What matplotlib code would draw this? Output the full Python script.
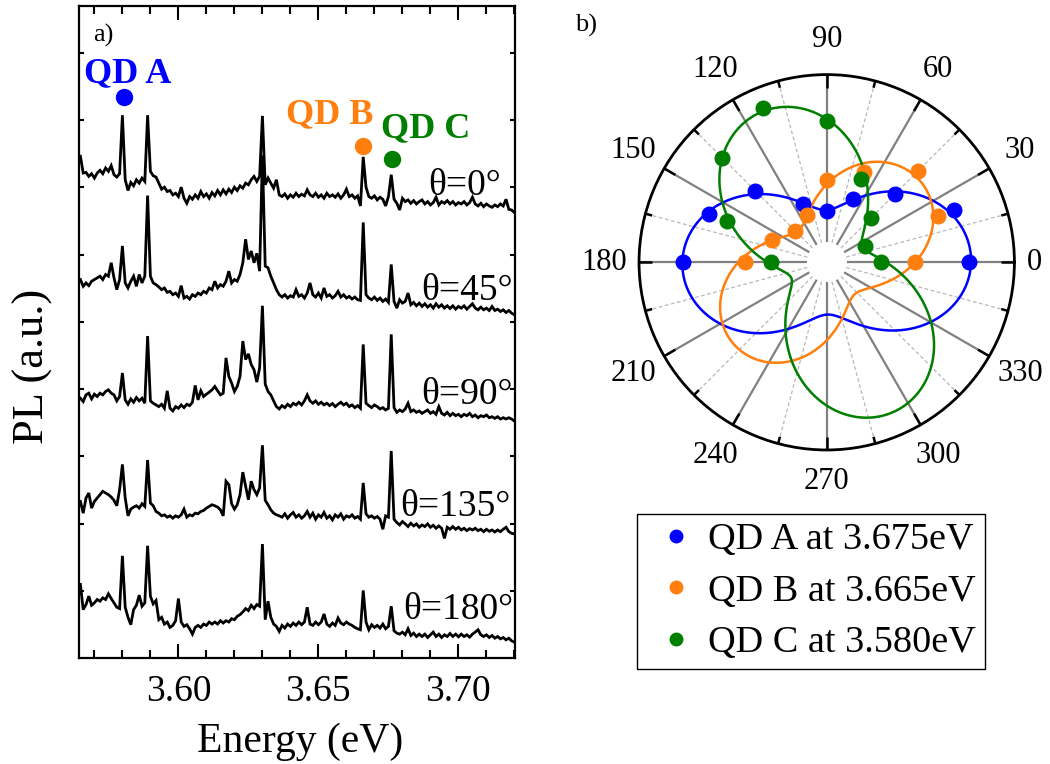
import numpy as np
import matplotlib
matplotlib.use('Agg')
import matplotlib.pyplot as plt
from matplotlib.lines import Line2D
from matplotlib.ticker import MultipleLocator

plt.rcParams['font.family'] = ['Liberation Serif', 'DejaVu Serif']

# ---------------- data: PL spectra (a.u.), 1 meV grid ----------------
E_START, E_STEP, N_PTS = 3.565, 0.001, 156
energy = np.round(E_START + E_STEP * np.arange(N_PTS), 4)

spec_0 = [170,120,122,110,118,105,120,128,118,135,
          125,142,115,108,118,292,100,68,92,82,
          100,90,105,95,292,125,112,108,90,72,
          78,65,68,55,60,50,78,45,30,50,
          42,55,45,65,50,58,45,62,52,68,
          55,70,58,72,62,78,68,82,75,90,
          85,100,110,95,110,290,85,105,90,75,
          100,55,50,58,45,55,48,60,50,57,
          52,70,55,50,60,48,55,45,60,50,
          55,48,58,45,55,72,50,55,45,52,
          22,168,78,50,45,52,40,48,42,22,
          50,115,42,30,10,45,35,40,30,38,
          28,35,40,28,35,25,32,48,25,35,
          30,38,28,35,25,32,28,35,25,32,
          48,28,22,30,20,28,22,18,25,20,
          28,22,42,12,10,2]
spec_45 = [100,80,90,82,95,100,105,110,100,115,
           110,150,105,70,100,200,90,75,95,110,
           80,115,90,110,350,110,90,85,78,70,
           75,62,65,55,60,50,82,45,50,42,
           55,50,60,55,65,60,75,70,95,75,
           85,80,95,125,90,100,95,115,150,220,
           160,185,150,178,125,470,140,135,110,90,
           70,55,48,55,45,52,48,70,50,55,
           45,60,90,55,48,60,45,75,50,55,
           45,52,65,48,55,45,50,42,48,40,
           38,270,55,45,40,48,38,45,35,42,
           32,145,35,15,40,30,35,60,25,32,
           22,30,20,28,18,25,15,28,18,25,
           15,22,14,22,12,20,15,22,12,20,
           28,15,10,18,10,15,8,20,8,12,
           5,10,2,8,0,-5]
spec_90 = [80,70,90,95,78,92,85,95,90,100,
           105,95,90,72,85,155,75,62,78,68,
           82,72,80,65,265,72,65,60,55,62,
           50,102,50,42,55,50,60,52,62,58,
           68,118,75,102,85,92,98,105,115,102,
           90,95,200,145,125,100,115,145,250,195,
           212,180,165,128,170,355,122,100,90,72,
           55,48,58,52,62,55,65,60,68,60,
           72,90,72,65,72,62,68,60,65,58,
           64,55,62,68,60,65,55,60,52,58,
           50,240,65,58,52,60,55,48,52,45,
           50,270,52,38,45,40,48,65,40,45,
           38,42,35,40,45,35,40,32,55,35,
           30,38,28,35,28,32,25,32,28,35,
           25,30,22,28,25,30,22,25,20,25,
           18,22,18,22,18,12]
spec_135 = [115,80,125,140,95,115,125,135,145,140,
            135,128,118,102,150,225,125,72,92,98,
            102,95,108,100,238,110,102,85,80,72,
            75,68,72,65,72,68,75,92,68,75,
            72,80,78,85,88,95,100,105,102,98,
            90,72,175,165,108,92,105,135,202,160,
            120,175,150,135,155,282,118,105,90,80,
            75,72,68,78,65,75,82,68,75,65,
            72,85,68,80,62,75,68,82,65,72,
            60,75,68,78,62,72,68,75,65,70,
            62,170,78,68,72,65,70,62,32,72,
            68,265,62,52,45,55,48,40,50,42,
            48,38,45,40,48,38,44,35,42,35,
            5,38,32,40,32,38,30,35,28,34,
            30,35,28,32,25,32,26,30,24,30,
            25,32,38,25,20,18]
spec_180 = [190,115,130,155,128,135,145,140,150,145,
            162,148,135,122,118,275,122,92,70,115,
            128,158,125,135,305,155,132,142,85,92,
            72,78,62,68,82,148,78,65,70,58,
            42,62,68,62,72,68,78,72,78,72,
            82,75,82,78,88,85,95,100,108,118,
            112,128,118,130,125,310,85,140,92,72,
            65,50,68,60,72,65,75,68,78,70,
            78,122,72,68,78,70,78,102,72,65,
            75,68,90,75,70,78,72,68,62,58,
            55,172,78,55,70,62,68,60,72,58,
            65,125,52,45,42,48,40,58,38,45,
            35,42,35,42,32,40,48,35,42,32,
            40,35,44,35,42,34,42,35,40,33,
            42,48,55,40,35,40,32,38,30,35,
            28,32,25,30,22,18]

spectra = [spec_0, spec_45, spec_90, spec_135, spec_180]
spec_offsets = [1323, 1026, 693, 351, 29]
spec_labels = ['θ=0°', 'θ=45°', 'θ=90°', 'θ=135°', 'θ=180°']
label_E = [3.7152, 3.7195, 3.7195, 3.7188, 3.7195]
label_base = [1378, 1065, 756, 423, 116]

qd_names = ['QD A', 'QD B', 'QD C']
qd_dot_E = [3.5807, 3.6658, 3.6762]
qd_dot_I = [1669, 1524, 1484]
qd_text_E = [3.5820, 3.6541, 3.6884]
qd_text_I = [1714, 1592, 1550]
colors = ['#0000ff', '#ff7f0e', '#007f00']

# ---------------- data: polarisation (normalised PL) ----------------
pol_angles = [0, 22.5, 45, 67.5, 90, 112.5, 135, 157.5, 180]
pol_a = [0.758, 0.734, 0.515, 0.366, 0.275, 0.334, 0.538, 0.677, 0.764]
pol_b = [0.471, 0.639, 0.691, 0.520, 0.439, 0.272, 0.236, 0.314, 0.435]
pol_c = [0.288, 0.222, 0.336, 0.483, 0.755, 0.892, 0.787, 0.574, 0.298]
legend_labels = ['QD A at 3.675eV', 'QD B at 3.665eV', 'QD C at 3.580eV']
theta_tick_angles = list(range(0, 360, 30))

# ---------------- figure ----------------
fig = plt.figure(figsize=(10.5, 7.64), dpi=100)

ax = fig.add_axes([79/1050, 106/764, 436/1050, 652/764])
for s, off in zip(spectra, spec_offsets):
    ax.plot(energy, np.array(s) + off, color='k', lw=2.0, solid_joinstyle='miter')
ax.set_xlim(3.5645, 3.7202)
ax.set_ylim(0, 1940)
ax.set_xticks([3.60, 3.65, 3.70])
ax.set_xticklabels(['3.60', '3.65', '3.70'])
ax.xaxis.set_minor_locator(MultipleLocator(0.01))
ax.set_yticks(np.arange(200, 1801, 200))
ax.set_yticklabels([])
ax.tick_params(axis='both', which='both', direction='in', top=True, right=True,
               width=1.5, color='k')
ax.tick_params(axis='x', which='major', length=10, labelsize=27, pad=12)
ax.tick_params(axis='x', which='minor', length=5.5)
ax.tick_params(axis='y', which='major', length=3.5)
for sp in ax.spines.values():
    sp.set_linewidth(1.6)

xl = ax.set_xlabel('Energy (eV)', fontsize=30)
ax.xaxis.set_label_coords((300-79)/436, (658-752)/652)
xl.set_va('baseline')
yl = ax.set_ylabel('PL (a.u.)', fontsize=32)
ax.yaxis.set_label_coords((33-79)/436, (658-366)/652)
yl.set_va('center')

for lab, xe, yb in zip(spec_labels, label_E, label_base):
    ax.text(xe, yb, lab, fontsize=27, ha='right', va='baseline')

for name, de, di, te, ti, c in zip(qd_names, qd_dot_E, qd_dot_I, qd_text_E, qd_text_I, colors):
    ax.plot([de], [di], 'o', color=c, ms=11.5, mec=c)
    ax.text(te, ti, name, color=c, fontsize=26, fontweight='bold', ha='center', va='baseline')

ax.text(0.032, 0.945, 'a)', transform=ax.transAxes, fontsize=19, va='baseline')

# ---------------- polar panel ----------------
pax = fig.add_axes([0.6086, 0.411, 0.3575, 0.4914], projection='polar')
pax.set_ylim(0, 1)
pax.set_xticks([])
pax.set_yticks([])
pax.grid(False)
pax.spines['polar'].set_linewidth(2.0)
pax.spines['polar'].set_color('k')

r_in = 0.107
for a in range(0, 360, 30):
    t = np.deg2rad(a)
    pax.plot([t, t], [r_in, 1], color='#808080', lw=1.6, solid_capstyle='butt', zorder=1)
    pax.plot([t, t], [1 - 13/187.7, 1], color='k', lw=1.8, solid_capstyle='butt', zorder=3)
for a in range(15, 360, 30):
    t = np.deg2rad(a)
    pax.plot([t, t], [r_in, 1], color='#b8b8b8', lw=0.9, ls=(0, (3, 2)), zorder=1)
    pax.plot([t, t], [1 - 7/187.7, 1], color='k', lw=1.8, solid_capstyle='butt', zorder=3)

th_fit = np.linspace(0, 2*np.pi, 721)
ang_rad = np.deg2rad(pol_angles)
A = np.column_stack([np.ones_like(ang_rad), np.cos(2*ang_rad), np.sin(2*ang_rad)])
Af = np.column_stack([np.ones_like(th_fit), np.cos(2*th_fit), np.sin(2*th_fit)])
for vals, c in zip([pol_a, pol_b, pol_c], colors):
    coef, *_ = np.linalg.lstsq(A, np.array(vals), rcond=None)
    pax.plot(th_fit, Af @ coef, color=c, lw=1.8, zorder=4)
for vals, c in zip([pol_a, pol_b, pol_c], colors):
    pax.plot(ang_rad, vals, 'o', color=c, ms=10.5, zorder=5)

for a in theta_tick_angles:
    r = 1.188
    if a == 0:
        r = 1.108
    elif a == 270:
        r = 1.167
    pax.text(np.deg2rad(a), r, str(a), fontsize=22, ha='center', va='center')

fig.text(575/1050, 1 - 32/764, 'b)', fontsize=19, va='baseline')

handles = [Line2D([], [], marker='o', ls='none', color=c, ms=9) for c in colors]
leg = fig.legend(handles, legend_labels, loc='upper left',
                 bbox_to_anchor=(637/1050, 1 - 514/764), borderaxespad=0,
                 fontsize=27.5, frameon=True, fancybox=False, edgecolor='k',
                 framealpha=1, borderpad=0.22, labelspacing=0.44,
                 handletextpad=0.05, handlelength=1.6)
leg.get_frame().set_linewidth(1.0)

fig.savefig('out.png', dpi=100)
